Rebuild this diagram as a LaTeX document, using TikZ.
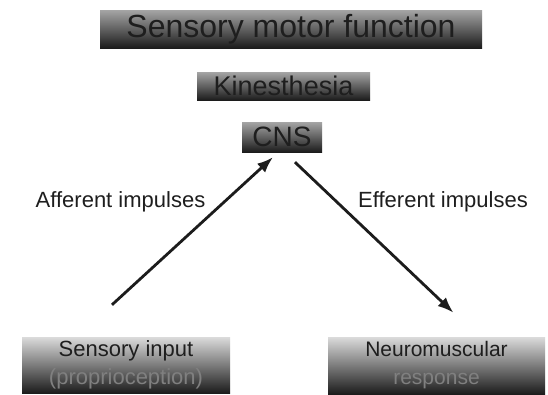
\documentclass[tikz,border=0pt]{standalone}
\usepackage{fontspec}
\setmainfont{Liberation Sans}
\usepackage{xcolor}
\usepackage{tikz}
\usetikzlibrary{arrows.meta,positioning,calc}
\definecolor{boxtop}{RGB}{165,165,165}
\definecolor{boxbot}{RGB}{28,28,28}
\definecolor{inktxt}{RGB}{30,30,30}

\begin{document}
\begin{tikzpicture}[x=1pt, y=-1pt,
  titlebox/.style={top color=boxtop, middle color=boxbot!65!boxtop, bottom color=boxbot,
                   inner sep=0pt, text=inktxt, align=center},
  levelbox/.style={top color=boxtop!40, middle color=boxbot!50!boxtop, bottom color=boxbot,
                   inner sep=0pt, text=inktxt, align=center},
  impulse/.style={line width=2.8pt, draw=boxbot, -{Latex[length=16pt,width=12pt]}},
  lbl/.style={text=inktxt, font=\fontsize{22}{26}\selectfont}
]
\useasboundingbox[fill=white] (0,0) rectangle (548,394);

\node[titlebox, minimum width=382pt, minimum height=38pt,
      font=\fontsize{32}{36}\selectfont] (smf) at (291,29) {Sensory motor function};
\node[titlebox, minimum width=173pt, minimum height=28pt,
      font=\fontsize{27}{30}\selectfont] (kin) at (283.5,86) {Kinesthesia};
\node[titlebox, minimum width=80pt, minimum height=30pt,
      font=\fontsize{28}{30}\selectfont] (cns) at (282,137) {CNS};

\node[levelbox, minimum width=208pt, minimum height=56pt,
      font=\fontsize{22}{28}\selectfont] (sensory) at (126,365)
  {Sensory input\\\textcolor{black!50}{(proprioception)}};
\node[levelbox, minimum width=217pt, minimum height=57pt,
      font=\fontsize{21}{28}\selectfont] (neuro) at (436.5,365.5)
  {Neuromuscular\\\textcolor{black!50}{response}};

\node[lbl] (afflbl) at (120.5,202) {Afferent impulses};
\node[lbl] (efflbl) at (443,202) {Efferent impulses};

\draw[impulse] ([xshift=-14pt,yshift=32pt]sensory.north) -- ([xshift=-9pt,yshift=-5pt]cns.south);
\draw[impulse] ([xshift=13pt,yshift=-10pt]cns.south) -- ([xshift=17pt,yshift=24pt]neuro.north);
\end{tikzpicture}
\end{document}
